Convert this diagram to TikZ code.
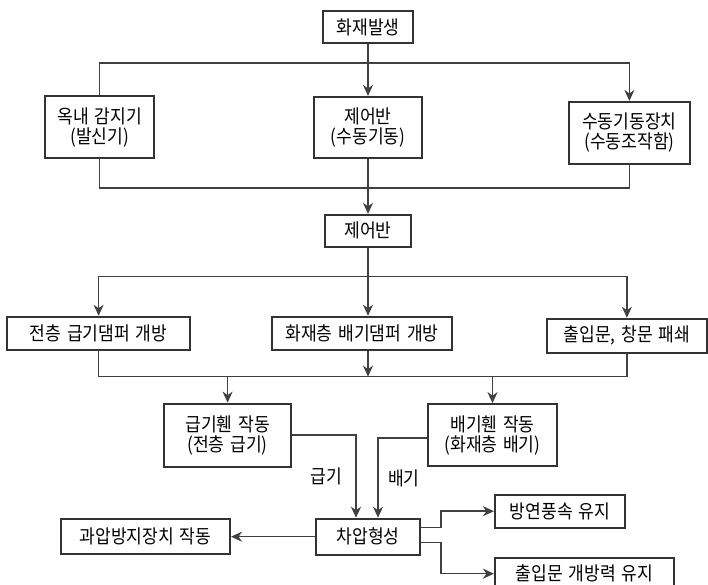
\documentclass[tikz,border=0pt]{standalone}
\usepackage{fontspec}
\setmainfont[FakeStretch=0.9,WordSpace=1.5]{Noto Sans CJK KR}
\usetikzlibrary{positioning,arrows.meta}

\tikzset{
  box/.style={draw=black!80, line width=1.9pt, fill=white, align=center,
    inner sep=2pt, font=\fontsize{19}{20}\selectfont},
  link/.style={draw=black!75, line width=1.5pt},
  arr/.style={link, -{Stealth[length=11pt,width=10pt,inset=3.5pt]}},
  lbl/.style={font=\fontsize{19}{20}\selectfont}
}

\begin{document}
\begin{tikzpicture}
    \useasboundingbox [fill=white] (0,0) rectangle (708pt,585pt);
    \node [box, minimum width=90pt, minimum height=32pt] (fire) at (368pt,558pt) {화재발생};
    \node [box, below=52pt of fire, minimum width=108pt, minimum height=61pt] (panel) {제어반\\(수동기동)};
    \node [box, left=158pt of panel, minimum width=109pt, minimum height=62pt] (sensor) {옥내 감지기\\(발신기)};
    \node [box, right=145pt of panel, yshift=-5.5pt, minimum width=121pt, minimum height=62pt] (manual_box) {수동기동장치\\(수동조작함)};
    \node [box, below=55pt of panel, minimum width=86pt, minimum height=32pt] (panel_two) {제어반};
    \node [box, below=68pt of panel_two, xshift=-6pt, minimum width=180pt, minimum height=33pt] (exhaust_damper) {화재층 배기댐퍼 개방};
    \node [box, left=80pt of exhaust_damper, minimum width=183pt, minimum height=33pt] (supply_damper) {전층 급기댐퍼 개방};
    \node [box, right=93pt of exhaust_damper, yshift=-2.5pt, minimum width=160pt, minimum height=34pt] (doors) {출입문, 창문 패쇄};
    \node [box, below=52pt of supply_damper, xshift=129pt, minimum width=127pt, minimum height=63pt] (supply_fan) {급기휀 작동\\(전층 급기)};
    \node [box, right=135pt of supply_fan, minimum width=129pt, minimum height=62pt] (exhaust_fan) {배기휀 작동\\(화재층 배기)};
    \node [box, below=270pt of panel_two, minimum width=104pt, minimum height=36pt] (pressure) {차압형성};
    \node [box, left=84pt of pressure, minimum width=169pt, minimum height=35pt] (relief) {과압방지장치 작동};
    \node [box, right=73pt of pressure, yshift=25.5pt, minimum width=130pt, minimum height=33pt] (air_speed) {방연풍속 유지};
    \node [box, right=73pt of pressure, yshift=-37pt, minimum width=179pt, minimum height=31pt] (door_force) {출입문 개방력 유지};

    \coordinate [below=19pt of fire] (bus_top);
    \coordinate [below=29pt of panel] (bus_mid);
    \coordinate [below=29pt of panel_two] (bus_ctrl);
    \coordinate (bus_low) at ([yshift=-26pt]panel_two.south |- exhaust_damper.south);

    \draw [arr] (fire) -- (panel);
    \draw [link] (sensor.north) |- (bus_top);
    \draw [arr] (bus_top) -| (manual_box.north);
    \draw [link] (sensor.south) |- (bus_mid) -| (manual_box.south);
    \draw [arr] (panel) -- (panel_two);

    \draw [arr] (panel_two.south) -- (panel_two.south |- exhaust_damper.north);
    \draw [arr] (bus_ctrl) -| (supply_damper.north);
    \draw [arr] (bus_ctrl) -| (doors.north);
    \draw [arr] (panel_two.south |- exhaust_damper.south) -- (bus_low);
    \draw [link] (supply_damper.south) |- (bus_low) -| (doors.south);
    \draw [arr] (bus_low -| supply_fan.north) -- (supply_fan.north);
    \draw [arr] (bus_low -| exhaust_fan.north) -- (exhaust_fan.north);

    \draw [arr] (supply_fan.east) -| node [lbl, pos=0.75, left=10pt] {급기} ([xshift=-12pt]pressure.north);
    \draw [arr] ([yshift=-3pt]exhaust_fan.west) -| node [lbl, pos=0.75, right=6pt] {배기} ([xshift=10pt]pressure.north);

    \draw [arr] (pressure.west) -- (pressure.west -| relief.east);
    \draw [arr] ([yshift=9pt]pressure.east) -- ++(20pt,0) |- (air_speed.west);
    \draw [arr] ([yshift=-6pt]pressure.east) -- ++(20pt,0) |- (door_force.west);
\end{tikzpicture}
\end{document}
